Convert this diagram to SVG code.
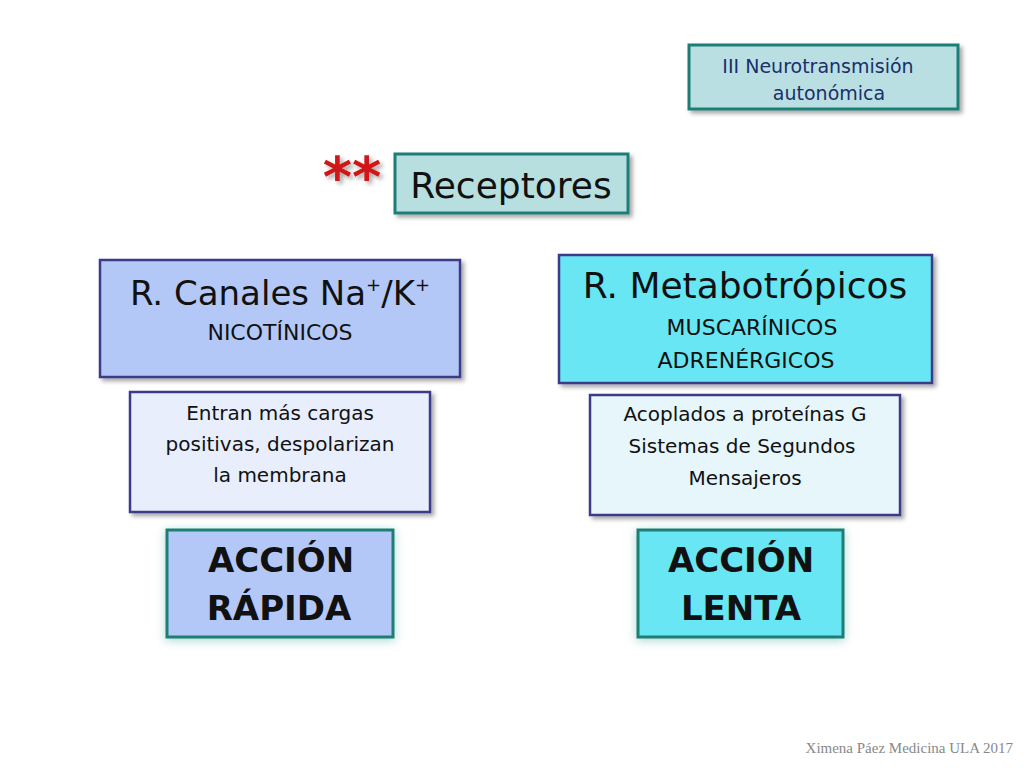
<svg xmlns="http://www.w3.org/2000/svg" width="1024" height="768" viewBox="0 0 1024 768">
<style>
text{font-family:"DejaVu Sans","Noto Sans",sans-serif;fill:#111;text-anchor:middle}
.b{stroke:#3a3a8a;stroke-width:2.5}
.t{stroke:#1f7f76;stroke-width:3}
</style>
<defs>
<filter id="sh" x="-10%" y="-10%" width="130%" height="140%"><feDropShadow dx="3" dy="3" stdDeviation="2" flood-color="#000" flood-opacity="0.35"/></filter>
<filter id="gl" x="-15%" y="-15%" width="130%" height="140%"><feDropShadow dx="0" dy="2" stdDeviation="5" flood-color="#2a9a8a" flood-opacity="0.4"/></filter>
</defs>
<rect width="1024" height="768" fill="#fff"/>
<g id="titulo">
<rect x="689" y="45" width="269" height="64" fill="#b9dfe3" class="t" filter="url(#sh)"/>
<text x="818" y="73" font-size="19" style="fill:#1a2f6a">III Neurotransmisión</text>
<text x="829" y="100" font-size="19" style="fill:#1a2f6a">autonómica</text>
</g>
<g id="receptores">
<text x="352" y="196" font-size="56" font-weight="bold" style="fill:#d01818" filter="url(#sh)">**</text>
<rect x="395" y="154" width="233" height="59" fill="#b7dfe0" class="t" filter="url(#sh)"/>
<text x="511" y="198" font-size="36">Receptores</text>
</g>
<g id="canales">
<rect x="100" y="260" width="360" height="117" fill="#b4c8f8" class="b" filter="url(#sh)"/>
<text x="280" y="305" font-size="34">R. Canales Na<tspan font-size="18" dy="-14">+</tspan><tspan dy="14">/K</tspan><tspan font-size="18" dy="-14">+</tspan></text>
<text x="280" y="340" font-size="22">NICOTÍNICOS</text>
</g>
<g id="metabo">
<rect x="559" y="255" width="373" height="128" fill="#69e6f3" class="b" filter="url(#sh)"/>
<text x="745" y="298" font-size="36">R. Metabotrópicos</text>
<text x="752" y="335" font-size="22">MUSCARÍNICOS</text>
<text x="746" y="368" font-size="22">ADRENÉRGICOS</text>
</g>
<g id="entran">
<rect x="130" y="392" width="300" height="120" fill="#e8eefc" class="b" filter="url(#sh)"/>
<text x="280" y="420" font-size="20">Entran más cargas</text>
<text x="280" y="451" font-size="20">positivas, despolarizan</text>
<text x="280" y="482" font-size="20">la membrana</text>
</g>
<g id="acoplados">
<rect x="590" y="395" width="310" height="120" fill="#e6f6fb" class="b" filter="url(#sh)"/>
<text x="745" y="421" font-size="20">Acoplados a proteínas G</text>
<text x="742" y="453" font-size="20">Sistemas de Segundos</text>
<text x="745" y="485" font-size="20">Mensajeros</text>
</g>
<g id="rapida">
<rect x="167" y="530" width="226" height="107" fill="#b4c8f8" class="t" filter="url(#gl)"/>
<text x="281" y="572" font-size="34" font-weight="bold">ACCIÓN</text>
<text x="279" y="620" font-size="34" font-weight="bold">RÁPIDA</text>
</g>
<g id="lenta">
<rect x="638" y="530" width="205" height="107" fill="#69e6f3" class="t" filter="url(#gl)"/>
<text x="741" y="572" font-size="34" font-weight="bold">ACCIÓN</text>
<text x="741" y="620" font-size="34" font-weight="bold">LENTA</text>
</g>
<g id="connectors"/>
<text x="1013" y="753" font-size="15" style="text-anchor:end;fill:#888;font-family:'Liberation Serif',serif">Ximena Páez Medicina ULA 2017</text>
</svg>
